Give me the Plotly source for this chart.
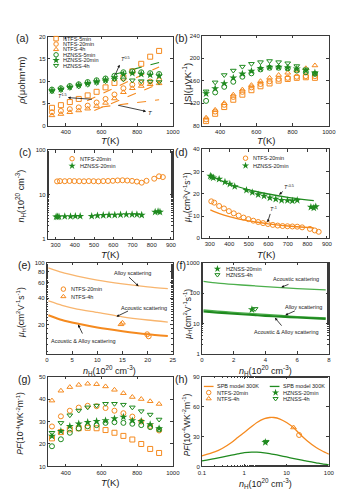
import math
import plotly.graph_objects as go

W, H = 355, 500
ORANGE = "#F58A1F"
ORANGE_LIGHT = "#F8B56E"
GREEN = "#1F8A1F"
GREEN_LIGHT = "#4CAF4C"
INK = "#1a1a1a"
AXIS = "#3a3a3a"
FONT = "Liberation Sans"

# ---------------- (a) resistivity vs T ----------------
T_a = [323, 373, 423, 473, 523, 573, 623, 673, 723, 773, 823, 873, 923]
rho_ntfs_5min = [4.0, 4.6, 5.3, 6.0, 6.8, 7.6, 8.6, 9.6, 10.8, 12.2, 13.9, 15.5, 16.8]
rho_ntfs_20min = [3.0, 3.3, 3.7, 4.1, 4.5, 5.2, 6.0, 7.0, 8.4, 9.2, 9.6, 9.9, 10.2]
rho_ntfs_4h = [2.3, 2.6, 3.0, 3.4, 3.8, 4.4, 5.1, 6.1, 7.5, 8.4, 8.9, 9.3, 9.5]
rho_hznss_5min = [8.1, 8.4, 8.9, 9.3, 9.8, 10.2, 10.6, 11.2, 12.0, 12.2, 12.0, 11.8, 11.6]
rho_hznss_20min = [7.9, 8.2, 8.7, 9.1, 9.5, 9.9, 10.3, 10.8, 11.5, 11.8, 11.6, 11.4, 11.2]
rho_hznss_4h = [7.7, 8.0, 8.5, 8.8, 9.2, 9.6, 10.0, 10.4, 10.4, 10.2, 10.0, 9.9, 9.8]
fitA_up_T, fitA_up_v = [520, 923], [5.6, 13.2]
fitA_mid_T, fitA_mid_v = [560, 923], [3.4, 9.4]
fitA_low_T, fitA_low_v = [600, 923], [4.2, 5.8]
fitA_green_T, fitA_green_v = [680, 923], [11.6, 14.2]

# ---------------- (b) Seebeck vs T ----------------
S_ntfs_5min = [88, 101, 113, 126, 135, 143, 150, 155, 160, 163, 165, 166, 165]
S_ntfs_20min = [91, 105, 117, 131, 140, 148, 154, 159, 163, 165, 167, 168, 168]
S_ntfs_4h = [94, 108, 120, 135, 144, 152, 159, 165, 170, 174, 178, 182, 187]
S_hznss_5min = [124, 139, 149, 158, 167, 173, 180, 183, 183, 182, 178, 175, 172]
S_hznss_20min = [137, 146, 155, 165, 172, 177, 182, 184, 184, 183, 181, 178, 174]
S_hznss_4h = [141, 157, 170, 178, 185, 190, 193, 195, 193, 191, 186, 180, 173]

# ---------------- (c),(d) Hall data vs T ----------------
T_ntfs_hall = [308, 323, 348, 373, 398, 423, 448, 473, 498, 523, 548, 573, 598,
               623, 648, 673, 698, 723, 748, 773, 813, 838, 858]
nH_ntfs = [20.0, 20.3, 20.2, 20.4, 20.3, 20.2, 20.1, 20.3, 20.2, 20.0, 20.3, 20.4, 20.6,
           21.0, 21.2, 20.9, 20.5, 19.8, 18.7, 20.6, 23.0, 26.0, 25.0]
mu_ntfs = [16.6, 16.0, 14.5, 13.4, 12.2, 11.2, 10.2, 9.3, 8.6, 7.9, 7.3, 6.8, 6.4,
           6.0, 5.7, 5.5, 5.4, 5.3, 5.2, 4.9, 4.2, 3.5, 2.9]
T_hznss_hall = [303, 310, 318, 348, 378, 403, 428, 488, 518, 548, 578, 608, 638,
                668, 698, 723, 748, 818, 833, 843]
nH_hznss = [3.2, 3.2, 3.2, 3.25, 3.25, 3.3, 3.3, 3.3, 3.4, 3.45, 3.5, 3.5, 3.55,
            3.6, 3.6, 3.6, 3.5, 4.1, 4.2, 4.1]
mu_hznss = [28.0, 27.6, 27.2, 26.6, 25.3, 24.4, 23.3, 21.6, 20.6, 19.6, 19.0, 18.2, 17.6,
            17.1, 17.0, 16.8, 17.1, 14.0, 13.7, 14.2]
fitD_green_T = [303, 400, 500, 600, 700, 833]
fitD_green_v = [28.0, 24.4, 21.8, 19.9, 18.4, 16.9]
fitD_orange_T = [303, 350, 400, 450, 500, 600, 700, 833]
fitD_orange_v = [12.8, 11.1, 9.7, 8.6, 7.8, 6.5, 5.5, 4.7]

# ---------------- (e) mobility vs n (NTFS) ----------------
nE_model = [0.3, 3, 6, 10, 15, 20, 24]
muE_alloy = [88, 78, 71, 64, 58, 53.5, 51]
muE_acoustic = [37, 33, 30, 27.5, 24.5, 22.5, 21.3]
muE_both = [25.5, 22.5, 20.5, 18.5, 16.8, 15.5, 14.8]
nE_20min, muE_20min = [19.9, 20.2], [15.5, 14.7]
nE_4h, muE_4h = [14.7, 15.0], [20.1, 20.9]

# ---------------- (f) mobility vs n (HZNSS) ----------------
nF_model = [0.1, 1, 2, 3, 4, 5, 6, 7.8]
muF_acoustic = [245, 215, 195, 180, 165, 153, 143, 130]
muF_alloy = [28, 25.5, 23.5, 21.5, 20, 18.5, 17, 15.3]
muF_both = [25, 23, 21, 19.5, 18, 16.8, 15.8, 14.2]
nF_20min, muF_20min = [3.15], [29.0]
nF_4h, muF_4h = [3.35], [30.5]

# ---------------- (g) PF vs T ----------------
PF_ntfs_5min = [22.5, 25.3, 26.5, 27.0, 27.2, 27.0, 26.2, 25.0, 23.6, 22.0, 20.0, 17.8, 16.0]
PF_ntfs_20min = [27.8, 32.3, 34.8, 36.2, 37.0, 36.8, 36.0, 34.8, 33.7, 32.2, 30.0, 28.0, 26.0]
PF_ntfs_4h = [39.3, 43.7, 45.3, 46.3, 46.8, 46.6, 45.6, 44.1, 42.6, 40.9, 40.0, 39.0, 37.8]
PF_hznss_5min = [19.0, 22.1, 25.0, 26.9, 27.9, 28.4, 29.4, 29.7, 29.4, 29.0, 28.4, 27.5, 26.5]
PF_hznss_20min = [23.5, 25.7, 27.9, 29.0, 29.7, 30.1, 30.4, 31.3, 32.0, 30.4, 30.1, 28.7, 26.9]
PF_hznss_4h = [25.0, 29.4, 32.8, 34.9, 36.3, 37.1, 37.9, 37.9, 37.5, 36.3, 34.6, 33.1, 30.9]

# ---------------- (h) PF vs n, SPB model ----------------
nH_spb = [0.1, 0.2, 0.3, 0.5, 0.7, 1, 1.5, 2, 3, 4, 5, 7, 10, 15, 20, 30, 50, 70, 100]
PF_spb_ntfs = [10.5, 14.5, 18, 24, 29, 34, 40, 44, 47.8, 49, 49, 47.5, 44, 38.5, 33, 26, 19, 15.5, 12.3]
PF_spb_hznss = [5.6, 7.8, 9.3, 11.3, 12.6, 13.8, 14.4, 14.3, 13.6, 12.8, 12.1, 10.9, 9.5, 7.9, 6.8, 5.3, 3.7, 2.6, 1.7]
nH_pt_ntfs_20min, PF_pt_ntfs_20min = [19.8], [31.5]
nH_pt_ntfs_4h, PF_pt_ntfs_4h = [14.6], [39.0]
nH_pt_hznss_20min, PF_pt_hznss_20min = [3.15], [24.2]
nH_pt_hznss_4h, PF_pt_hznss_4h = [3.3], [24.8]


def dom(x0, x1, y0, y1):
    return [x0 / W, x1 / W], [1 - y1 / H, 1 - y0 / H]


PANELS = {
    1: dom(37, 166, 26, 116),
    2: dom(196, 327, 25, 116),
    3: dom(37, 166, 141, 231),
    4: dom(196, 327, 140, 230),
    5: dom(36, 166, 255, 347),
    6: dom(196, 327, 255, 347),
    7: dom(37, 166, 370, 461),
    8: dom(196, 327, 370, 461),
}


def ax_name(n, letter):
    return letter if n == 1 else f"{letter}{n}"


def axis(domain, anchor, **kw):
    d = dict(domain=domain, anchor=anchor, showline=True, mirror="ticks", linecolor=AXIS,
             linewidth=1, ticks="inside", ticklen=2.5, tickwidth=0.8, tickcolor=AXIS,
             showgrid=False, zeroline=False, fixedrange=True,
             tickfont=dict(family=FONT, size=6, color=INK))
    d.update(kw)
    return d


fig = go.Figure()

MK = {
    "sq": "square-open", "ci": "circle-open", "tu": "triangle-up-open",
    "td": "triangle-down-open", "st": "star",
}


def pts(n, x, y, kind, color, size=5):
    fig.add_trace(go.Scatter(
        x=x, y=y, mode="markers", xaxis=ax_name(n, "x"), yaxis=ax_name(n, "y"),
        showlegend=False, hoverinfo="skip", cliponaxis=False,
        marker=dict(symbol=MK[kind], size=size + (1 if kind == "st" else 0), color=color,
                    line=dict(width=1 if kind != "st" else 0, color=color))))


def line(n, x, y, color, width=1.2, dash="solid"):
    fig.add_trace(go.Scatter(
        x=x, y=y, mode="lines", xaxis=ax_name(n, "x"), yaxis=ax_name(n, "y"),
        showlegend=False, hoverinfo="skip",
        line=dict(color=color, width=width, dash=dash, shape="spline", smoothing=0.6)))


# (a)
line(1, fitA_up_T, fitA_up_v, ORANGE, 1.1, "dash")
line(1, fitA_mid_T, fitA_mid_v, ORANGE, 1.1, "dash")
line(1, fitA_low_T, fitA_low_v, ORANGE, 1.1, "dash")
line(1, fitA_green_T, fitA_green_v, GREEN, 1.1, "dash")
pts(1, T_a, rho_ntfs_5min, "sq", ORANGE)
pts(1, T_a, rho_ntfs_20min, "ci", ORANGE)
pts(1, T_a, rho_ntfs_4h, "tu", ORANGE)
pts(1, T_a, rho_hznss_5min, "ci", GREEN)
pts(1, T_a, rho_hznss_20min, "st", GREEN)
pts(1, T_a, rho_hznss_4h, "td", GREEN)
# (b)
pts(2, T_a, S_ntfs_5min, "sq", ORANGE)
pts(2, T_a, S_ntfs_20min, "ci", ORANGE)
pts(2, T_a, S_ntfs_4h, "tu", ORANGE)
pts(2, T_a, S_hznss_5min, "ci", GREEN)
pts(2, T_a, S_hznss_20min, "st", GREEN)
pts(2, T_a, S_hznss_4h, "td", GREEN)
# (c)
pts(3, T_ntfs_hall, nH_ntfs, "ci", ORANGE)
pts(3, T_hznss_hall, nH_hznss, "st", GREEN)
# (d)
line(4, fitD_orange_T, fitD_orange_v, ORANGE, 1.3)
line(4, fitD_green_T, fitD_green_v, GREEN, 1.3)
pts(4, T_ntfs_hall, mu_ntfs, "ci", ORANGE)
pts(4, T_hznss_hall, mu_hznss, "st", GREEN)
# (e)
line(5, nE_model, muE_alloy, ORANGE_LIGHT, 1.3)
line(5, nE_model, muE_acoustic, ORANGE_LIGHT, 1.3)
line(5, nE_model, muE_both, ORANGE, 2.0)
pts(5, nE_20min, muE_20min, "ci", ORANGE)
pts(5, nE_4h, muE_4h, "tu", ORANGE)
# (f)
line(6, nF_model, muF_acoustic, GREEN_LIGHT, 1.3)
line(6, nF_model, muF_alloy, GREEN_LIGHT, 1.3)
line(6, nF_model, muF_both, GREEN, 2.2)
pts(6, nF_20min, muF_20min, "st", GREEN)
pts(6, nF_4h, muF_4h, "td", GREEN)
# (g)
pts(7, T_a, PF_ntfs_5min, "sq", ORANGE)
pts(7, T_a, PF_ntfs_20min, "ci", ORANGE)
pts(7, T_a, PF_ntfs_4h, "tu", ORANGE)
pts(7, T_a, PF_hznss_5min, "ci", GREEN)
pts(7, T_a, PF_hznss_20min, "st", GREEN)
pts(7, T_a, PF_hznss_4h, "td", GREEN)
# (h)
line(8, nH_spb, PF_spb_ntfs, ORANGE, 1.3)
line(8, nH_spb, PF_spb_hznss, GREEN, 1.3)
pts(8, nH_pt_ntfs_20min, PF_pt_ntfs_20min, "ci", ORANGE)
pts(8, nH_pt_ntfs_4h, PF_pt_ntfs_4h, "tu", ORANGE)
pts(8, nH_pt_hznss_20min, PF_pt_hznss_20min, "st", GREEN)
pts(8, nH_pt_hznss_4h, PF_pt_hznss_4h, "td", GREEN)

# ---------- axes ----------
minor_log = dict(ticks="inside", ticklen=1.5, tickcolor=AXIS, tickwidth=0.6)
T_ticks = [400, 600, 800, 1000]
T_ticks2 = [300, 400, 500, 600, 700, 800, 900]
lay = {}
specs = {
    1: (dict(range=[300, 1000], tickvals=T_ticks), dict(range=[0, 20], tickvals=[0, 5, 10, 15, 20])),
    2: (dict(range=[300, 1000], tickvals=T_ticks), dict(range=[80, 240], tickvals=[80, 120, 160, 200, 240])),
    3: (dict(range=[260, 910], tickvals=T_ticks2),
        dict(type="log", range=[0, 2], tickvals=[1, 10, 100], ticktext=["1", "10", "100"], minor=minor_log)),
    4: (dict(range=[260, 910], tickvals=T_ticks2), dict(range=[0, 40], tickvals=[0, 10, 20, 30, 40])),
    5: (dict(range=[0, 25], tickvals=[0, 5, 10, 15, 20, 25]),
        dict(type="log", range=[math.log10(9.3), 2], tickvals=[20, 40, 60, 80, 100],
             ticktext=["20", "40", "60", "80", "100"], minor=minor_log)),
    6: (dict(range=[0, 8], tickvals=[0, 2, 4, 6, 8]),
        dict(type="log", range=[0, 3], tickvals=[1, 10, 100, 1000],
             ticktext=["1", "10", "100", "1000"], minor=minor_log)),
    7: (dict(range=[300, 1000], tickvals=T_ticks), dict(range=[10, 50], tickvals=[10, 20, 30, 40, 50])),
    8: (dict(type="log", range=[-1, 2], tickvals=[0.1, 1, 10, 100], ticktext=["0.1", "1", "10", "100"],
             minor=minor_log),
        dict(range=[0, 90], tickvals=[0, 30, 60, 90])),
}
for n, (xs, ys) in specs.items():
    xd, yd = PANELS[n]
    xk = "xaxis" if n == 1 else f"xaxis{n}"
    yk = "yaxis" if n == 1 else f"yaxis{n}"
    lay[xk] = axis(xd, ax_name(n, "y"), **xs)
    lay[yk] = axis(yd, ax_name(n, "x"), **ys)
# overlay in pixel units, for legend keys
lay["xaxis9"] = dict(domain=[0, 1], range=[0, W], visible=False, anchor="y9", fixedrange=True)
lay["yaxis9"] = dict(domain=[0, 1], range=[H, 0], visible=False, anchor="x9", fixedrange=True)

anns = []


def ptext(x, y, text, size=6, color=INK, xanchor="left", angle=0):
    anns.append(dict(x=x / W, y=1 - y / H, xref="paper", yref="paper", text=text,
                     showarrow=False, xanchor=xanchor, yanchor="middle", textangle=angle,
                     font=dict(family=FONT, size=size, color=color)))


def key(x, y, kind, color, size=5):
    fig.add_trace(go.Scatter(
        x=[x], y=[y], mode="markers", xaxis="x9", yaxis="y9", showlegend=False,
        hoverinfo="skip", cliponaxis=False,
        marker=dict(symbol=MK[kind], size=size + (1 if kind == "st" else 0), color=color,
                    line=dict(width=1 if kind != "st" else 0, color=color))))


def keyline(x0, x1, y, color):
    fig.add_trace(go.Scatter(
        x=[x0, x1], y=[y, y], mode="lines", xaxis="x9", yaxis="y9", showlegend=False,
        hoverinfo="skip", line=dict(color=color, width=1.3)))


def arrow(n, tail, head, logx=False, logy=False):
    tx, ty = tail
    hx, hy = head
    if logx:
        tx, hx = math.log10(tx), math.log10(hx)
    if logy:
        ty, hy = math.log10(ty), math.log10(hy)
    xr, yr = ax_name(n, "x"), ax_name(n, "y")
    anns.append(dict(x=hx, y=hy, ax=tx, ay=ty, xref=xr, yref=yr, axref=xr, ayref=yr,
                     text="", showarrow=True, arrowhead=2, arrowsize=0.7, arrowwidth=0.8,
                     arrowcolor="#111"))


def dtext(n, x, y, text, size=5.5, logx=False, logy=False, xanchor="center"):
    if logx:
        x = math.log10(x)
    if logy:
        y = math.log10(y)
    anns.append(dict(x=x, y=y, xref=ax_name(n, "x"), yref=ax_name(n, "y"), text=text,
                     showarrow=False, xanchor=xanchor, yanchor="middle",
                     font=dict(family=FONT, size=size, color=INK)))


# panel letters
for lbl, (x, y) in {"(a)": (11, 27), "(b)": (175, 27), "(c)": (13, 143), "(d)": (175, 143),
                    "(e)": (13, 257), "(f)": (174, 257), "(g)": (13, 372), "(h)": (175, 372)}.items():
    ptext(x, y, lbl, size=10.5, xanchor="center")

# axis titles
TK = "<i>T</i>(K)"
NH = "<i>n</i><sub>H</sub>(10<sup>20</sup> cm<sup>-3</sup>)"
MU = "<i>μ</i><sub>H</sub>(cm<sup>2</sup>V<sup>-1</sup>s<sup>-1</sup>)"
PF = "<i>PF</i>(10<sup>-4</sup>WK<sup>-2</sup>m<sup>-1</sup>)"
ptext(101, 131.5, TK, 9.5, xanchor="center")
ptext(262, 131.5, TK, 9.5, xanchor="center")
ptext(101, 246.5, TK, 9.5, xanchor="center")
ptext(262, 246.5, TK, 9.5, xanchor="center")
ptext(101, 364, NH, 9, xanchor="center")
ptext(262, 364, NH, 9, xanchor="center")
ptext(101, 477.5, TK, 9.5, xanchor="center")
ptext(262, 478, NH, 9, xanchor="center")
ptext(9, 71, "<i>ρ</i>(μohm*m)", 9.5, xanchor="center", angle=-90)
ptext(181, 73, "|S|(μVK<sup>-1</sup>)", 9.5, xanchor="center", angle=-90)
ptext(9, 187, NH, 9, xanchor="center", angle=-90)
ptext(181, 189, MU, 8.5, xanchor="center", angle=-90)
ptext(9, 305, MU, 8.5, xanchor="center", angle=-90)
ptext(181, 307, MU, 8.5, xanchor="center", angle=-90)
ptext(9, 417, PF, 8.5, xanchor="center", angle=-90)
ptext(181, 419, PF, 8.5, xanchor="center", angle=-90)

# legends
LG = 5.5
legA = [("sq", ORANGE, "NTFS-5min"), ("ci", ORANGE, "NTFS-20min"), ("tu", ORANGE, "NTFS-4h"),
        ("ci", GREEN, "HZNSS-5min"), ("st", GREEN, "HZNSS-20min"), ("td", GREEN, "HZNSS-4h")]
for i, (k, c, t) in enumerate(legA):
    yy = 28 + i * 5.45
    key(45.5, yy, k, c, 4.5)
    ptext(50.5, yy, t, LG)
key(62, 149.5, "ci", ORANGE, 4.5); ptext(68, 149.5, "NTFS-20min", LG)
key(62, 156.7, "st", GREEN, 4.5); ptext(68, 156.7, "HZNSS-20min", LG)
key(241, 149, "ci", ORANGE, 4.5); ptext(247, 149, "NTFS-20min", LG)
key(241, 156.5, "st", GREEN, 4.5); ptext(247, 156.5, "HZNSS-20min", LG)
key(53, 281.5, "ci", ORANGE, 4.5); ptext(59, 281.5, "NTFS-20min", LG)
key(53, 289, "tu", ORANGE, 4.5); ptext(59, 289, "NTFS-4h", LG)
key(212, 261, "st", GREEN, 4.5); ptext(219, 261, "HZNSS-20min", LG)
key(212, 267, "td", GREEN, 4.5); ptext(219, 267, "HZNSS-4h", LG)
keyline(198, 208, 380, ORANGE); ptext(210, 380, "SPB model 300K", LG)
keyline(266, 276, 380, GREEN); ptext(278, 380, "SPB model 300K", LG)
key(203, 386.2, "ci", ORANGE, 4.5); ptext(210, 386.2, "NTFS-20min", LG)
key(203, 392.4, "tu", ORANGE, 4.5); ptext(210, 392.4, "NTFS-4h", LG)
key(272, 386.2, "st", GREEN, 4.5); ptext(278, 386.2, "HZNSS-20min", LG)
key(272, 392.4, "td", GREEN, 4.5); ptext(278, 392.4, "HZNSS-4h", LG)

# (a) annotations
dtext(1, 735, 15.0, "<i>T</i><sup>0.5</sup>")
arrow(1, (674, 11.1), (702, 13.7))
dtext(1, 381, 6.6, "<i>T</i><sup>1.5</sup>")
arrow(1, (555, 5.9), (412, 6.3))
dtext(1, 875, 2.9, "<i>T</i>", size=6)
arrow(1, (685, 4.65), (850, 3.2))
# (d) annotations
dtext(4, 705, 23.0, "<i>T</i><sup>-0.5</sup>")
arrow(4, (682, 21.6), (655, 19.6))
dtext(4, 625, 13.2, "<i>T</i><sup>-1</sup>")
arrow(4, (612, 11.6), (596, 7.2))
# (e) annotations
dtext(5, 17.0, 76, "Alloy scattering", logy=True)
arrow(5, (16.0, 71.5), (18.2, 54.5), logy=True)
dtext(5, 19.2, 30.5, "Acoustic scattering", logy=True)
arrow(5, (16.4, 29.0), (13.8, 24.6), logy=True)
dtext(5, 7.3, 13.0, "Acoustic &amp; Alloy scattering", logy=True)
arrow(5, (7.2, 15.2), (6.2, 20.0), logy=True)
# (f) annotations
dtext(6, 5.95, 305, "Acoustic scattering", logy=True)
arrow(6, (5.55, 206), (5.0, 157), logy=True)
dtext(6, 6.4, 36.5, "Alloy scattering", logy=True)
arrow(6, (5.95, 27.5), (5.25, 18.8), logy=True)
dtext(6, 5.35, 5.2, "Acoustic &amp; Alloy scattering", logy=True)
arrow(6, (5.1, 7.6), (4.6, 15.5), logy=True)

fig.update_layout(
    width=W, height=H, autosize=False,
    margin=dict(l=0, r=0, t=0, b=0),
    paper_bgcolor="white", plot_bgcolor="rgba(0,0,0,0)",
    font=dict(family=FONT, size=6, color=INK),
    showlegend=False, annotations=anns, **lay)

fig.write_html("out.html")
